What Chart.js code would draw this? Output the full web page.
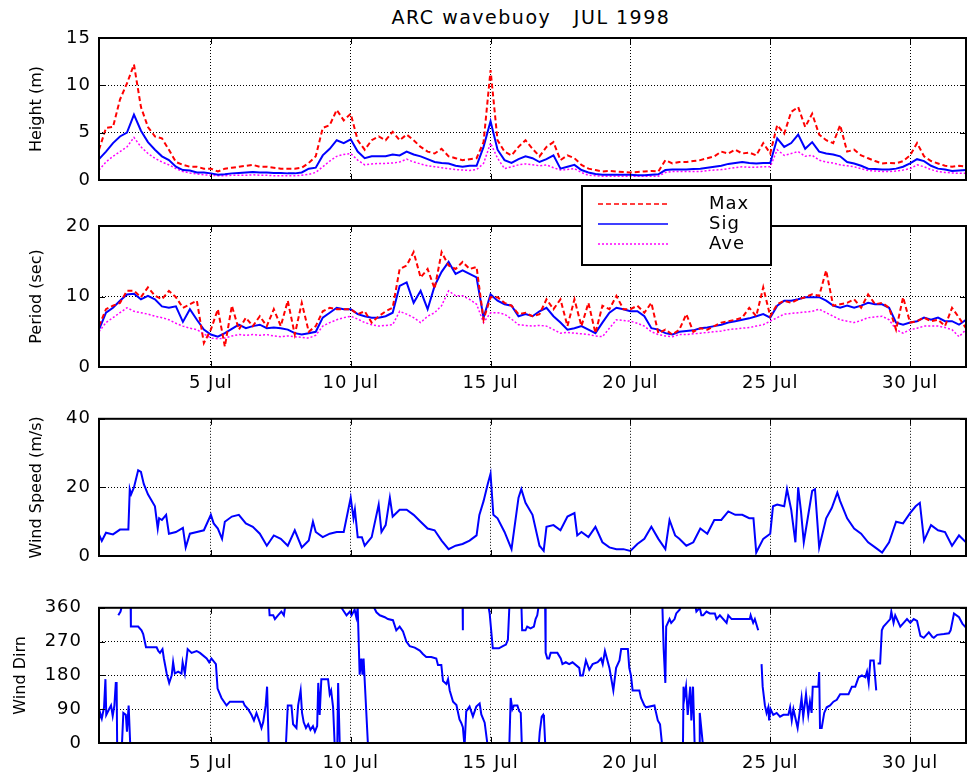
<!DOCTYPE html>
<html>
<head>
<meta charset="utf-8">
<title>ARC wavebuoy JUL 1998</title>
<script src="https://cdn.jsdelivr.net/npm/chart.js@4.4.1/dist/chart.umd.min.js"></script>
<style>
    body { margin: 0; background: #fff; }
    #page { position: relative; width: 972px; height: 772px; overflow: hidden; }
    #page canvas { position: absolute; left: 0; }
    #title {
        position: absolute; top: 6px; left: 331px; width: 400px;
        text-align: center; white-space: pre; color: #000;
        font: 19px/22px "DejaVu Sans", sans-serif; letter-spacing: 1.5px;
    }
</style>
</head>
<body>
<div id="page">
    <div id="title">ARC wavebuoy   JUL 1998</div>
    <canvas id="heightChart" width="972" height="200" style="top: 0px"></canvas>
    <canvas id="periodChart" width="972" height="218" style="top: 182px"></canvas>
    <canvas id="speedChart" width="972" height="176" style="top: 400px"></canvas>
    <canvas id="dirChart" width="972" height="192" style="top: 580px"></canvas>
</div>
<script>
// x axis is day of July (1 = 1 Jul 00:00)
const dayTicks = [5, 10, 15, 20, 25, 30]
const dayTickLabels = ["5 Jul", "10 Jul", "15 Jul", "20 Jul", "25 Jul", "30 Jul"]

// wave records, every 6 hours from 1 Jul 00:00 (one row per day)
const waveStart = 1
const waveStep = 0.25

const heightMax = [
    3.2, 5.5, 5.6, 8.5,   10.2, 12.2, 7.7, 5.6,   4.6, 4.4, 3.2, 1.9,   1.6, 1.4, 1.4, 1.2,
    1.2, 0.9, 1.2, 1.3,   1.4, 1.5, 1.6, 1.4,     1.4, 1.3, 1.2, 1.2,   1.2, 1.3, 1.8, 2.5,
    5.5, 5.8, 7.4, 6.3,   7.0, 4.2, 3.2, 4.2,     4.6, 4.2, 5.1, 4.2,   4.8, 4.2, 3.5, 3.0,
    2.8, 3.3, 2.5, 2.3,   2.1, 2.2, 2.3, 4.0,     11.6, 4.2, 3.0, 2.6,  3.5, 4.2, 3.3, 2.5,
    3.5, 4.0, 2.1, 2.6,   2.3, 1.6, 1.2, 1.05,    0.9, 0.95, 0.9, 0.85, 0.8, 0.85, 0.9, 0.95,
    0.9, 2.1, 1.75, 1.9,  1.9, 2.0, 2.1, 2.3,     2.5, 3.0, 2.8, 3.2,   2.8, 2.9, 2.6, 3.9,
    2.8, 5.8, 4.9, 7.2,   7.7, 5.6, 7.0, 4.8,     4.2, 3.9, 5.8, 3.0,   3.2, 2.6, 2.3, 2.0,
    1.75, 1.8, 1.75, 2.0, 2.6, 3.9, 2.5, 2.0,     1.75, 1.5, 1.4, 1.5,  1.4,
]
const heightSig = [
    2.2, 3.0, 3.9, 4.6,   5.0, 6.9, 5.2, 4.0,     3.2, 2.5, 2.1, 1.4,   1.05, 1.0, 0.8, 0.8,
    0.7, 0.55, 0.6, 0.7,  0.75, 0.8, 0.85, 0.8,   0.8, 0.75, 0.75, 0.7, 0.7, 0.8, 1.2, 1.3,
    2.6, 3.3, 4.2, 3.9,   4.3, 3.0, 2.3, 2.5,     2.5, 2.5, 2.7, 2.6,   3.0, 2.7, 2.5, 2.2,
    1.9, 1.8, 1.75, 1.5,  1.4, 1.5, 1.5, 3.5,     6.2, 3.2, 2.1, 1.8,   2.2, 2.5, 2.3, 1.9,
    2.2, 2.6, 1.2, 1.4,   1.6, 1.05, 0.8, 0.63,   0.55, 0.55, 0.55, 0.55, 0.55, 0.5, 0.5, 0.55,
    0.6, 1.05, 1.1, 1.1,  1.1, 1.15, 1.2, 1.3,    1.4, 1.5, 1.7, 1.8,   1.9, 1.8, 1.75, 1.8,
    1.8, 4.4, 3.5, 3.9,   4.8, 3.3, 4.0, 3.0,     2.8, 2.7, 2.5, 1.9,   1.75, 1.5, 1.2, 1.15,
    1.1, 1.1, 1.2, 1.4,   1.75, 2.2, 2.0, 1.5,    1.2, 1.1, 0.95, 1.0,  1.05,
]
const heightAve = [
    1.05, 1.9, 2.5, 3.0,  3.5, 4.5, 3.5, 2.8,     2.3, 1.9, 1.6, 1.2,   0.9, 0.75, 0.63, 0.55,
    0.5, 0.45, 0.45, 0.5, 0.5, 0.5, 0.55, 0.5,    0.5, 0.45, 0.45, 0.45, 0.45, 0.5, 0.6, 0.8,
    1.4, 2.0, 2.5, 2.7,   2.8, 2.1, 1.6, 1.7,     1.75, 1.75, 1.8, 1.9, 2.2, 1.9, 1.7, 1.5,
    1.4, 1.3, 1.2, 1.1,   1.05, 1.0, 1.1, 1.75,   3.9, 2.3, 1.2, 1.4,   1.6, 1.7, 1.6, 1.5,
    1.6, 1.3, 1.05, 1.1,  1.2, 0.8, 0.5, 0.45,    0.4, 0.4, 0.4, 0.4,   0.4, 0.4, 0.4, 0.4,
    0.4, 0.8, 0.9, 0.9,   0.9, 0.9, 0.9, 1.0,     1.05, 1.1, 1.2, 1.3,  1.4, 1.35, 1.35, 1.4,
    1.4, 3.2, 2.6, 2.8,   3.0, 2.5, 2.6, 2.1,     1.9, 1.8, 1.6, 1.5,   1.4, 1.2, 1.0, 0.95,
    0.9, 0.9, 0.95, 1.05, 1.2, 1.6, 1.4, 1.1,     0.9, 0.8, 0.75, 0.7,  0.7,
]

const periodMax = [
    5.8, 8.2, 8.7, 9.1,   10.8, 10.8, 9.9, 11.3,  10.1, 9.6, 10.8, 9.9, 8.4, 8.9, 9.4, 3.4,
    5.3, 8.2, 2.9, 8.7,   5.3, 7.0, 5.8, 7.2,     5.8, 8.2, 5.8, 9.4,   4.6, 9.1, 5.0, 5.8,
    7.9, 8.4, 8.2, 8.2,   8.2, 7.5, 7.9, 6.3,     7.2, 7.9, 8.4, 13.9,  14.4, 16.3, 12.7, 13.9,
    11.1, 16.3, 14.4, 13.9, 14.9, 13.9, 14.2, 6.7, 9.9, 9.9, 9.1, 8.7,  7.5, 7.7, 7.2, 7.5,
    9.6, 8.2, 9.6, 5.8,   9.6, 5.8, 9.1, 4.8,     8.7, 8.2, 10.1, 8.2,  8.2, 8.7, 7.7, 9.1,
    4.8, 5.3, 4.6, 5.3,   7.5, 5.0, 5.5, 5.3,     5.8, 6.3, 6.5, 6.7,   7.0, 8.4, 7.2, 11.3,
    7.2, 8.9, 9.4, 9.1,   9.6, 9.9, 10.3, 10.1,   13.7, 8.7, 8.9, 9.1,  9.6, 8.4, 10.3, 8.9,
    9.1, 8.4, 5.3, 9.9,   6.3, 6.5, 7.0, 6.5,     6.7, 5.8, 8.4, 7.0,   5.5,
]
const periodSig = [
    5.3, 7.7, 8.4, 9.4,   10.3, 10.4, 9.6, 10.1,  9.6, 8.6, 8.4, 8.6,   6.4, 8.2, 6.7, 5.3,
    4.6, 4.3, 4.8, 5.4,   6.0, 5.5, 5.8, 6.0,     5.5, 5.6, 5.5, 5.3,   4.8, 4.6, 4.8, 5.0,
    7.0, 7.7, 8.4, 8.2,   8.2, 7.5, 7.2, 7.0,     7.0, 7.2, 7.7, 11.5,  12.0, 9.1, 10.8, 8.2,
    11.5, 13.5, 14.9, 13.2, 13.7, 13.2, 12.7, 7.0, 10.3, 9.4, 8.9, 8.7, 7.2, 7.5, 7.2, 7.9,
    8.4, 7.2, 6.3, 5.3,   5.5, 5.8, 5.3, 4.8,     6.3, 7.7, 8.4, 8.2,   7.9, 7.9, 7.2, 5.5,
    5.3, 4.8, 4.6, 5.0,   5.1, 5.2, 5.5, 5.6,     5.8, 6.0, 6.3, 6.5,   6.7, 6.9, 7.2, 7.5,
    7.0, 8.7, 9.4, 9.4,   9.6, 9.9, 9.9, 9.9,     9.4, 8.7, 8.4, 8.7,   8.4, 8.7, 9.1, 8.9,
    8.9, 8.4, 6.3, 6.0,   6.3, 6.5, 7.0, 6.7,     7.0, 6.5, 6.5, 6.0,   6.7,
]
const periodAve = [
    5.0, 6.3, 7.0, 7.7,   8.4, 7.9, 7.7, 7.5,     7.2, 7.0, 6.7, 6.2,   5.8, 5.5, 5.3, 4.7,
    4.1, 4.0, 4.1, 4.4,   4.6, 4.5, 4.6, 4.5,     4.6, 4.4, 4.3, 4.4,   4.3, 4.2, 4.1, 4.5,
    5.8, 6.3, 6.7, 7.0,   7.2, 6.8, 6.3, 6.0,     5.8, 5.9, 6.0, 7.9,   7.5, 7.0, 6.3, 7.2,
    7.7, 8.7, 10.8, 10.1, 10.1, 9.6, 8.9, 6.3,    7.7, 7.7, 7.5, 6.8,   6.0, 5.9, 5.8, 5.9,
    5.8, 5.3, 4.8, 4.9,   4.8, 4.7, 4.6, 4.4,     4.3, 5.5, 6.7, 6.6,   6.5, 6.2, 5.8, 5.0,
    4.6, 4.4, 4.3, 4.6,   4.6, 4.7, 4.8, 4.9,     5.0, 5.1, 5.3, 5.4,   5.5, 5.6, 5.8, 6.0,
    6.5, 7.0, 7.5, 7.6,   7.7, 7.8, 7.9, 8.2,     7.7, 7.2, 6.7, 6.5,   6.3, 6.6, 7.0, 7.1,
    7.2, 6.7, 5.3, 4.8,   5.3, 5.5, 5.8, 5.8,     5.8, 5.6, 5.3, 4.3,   5.3,
]

// wind records as [day, value]
const windSpeed = [
    [1.00, 6.3], [1.10, 4.4], [1.25, 6.8], [1.50, 6.3], [1.75, 7.7], [2.05, 7.7], [2.10, 19.5], [2.15, 18],
    [2.25, 20], [2.40, 25], [2.50, 24.5], [2.60, 21], [2.75, 18], [3.00, 14.5], [3.10, 8], [3.15, 11],
    [3.25, 10.5], [3.40, 12], [3.50, 6.5], [3.75, 7], [4.00, 8.2], [4.10, 2.5], [4.25, 6.5], [4.50, 7],
    [4.75, 7.5], [5.00, 12], [5.10, 9.5], [5.25, 8], [5.40, 5], [5.50, 10], [5.75, 11.5], [6.00, 12],
    [6.25, 9.5], [6.50, 8.5], [6.75, 6.5], [7.00, 3], [7.25, 6], [7.50, 5], [7.75, 3], [8.00, 7.5],
    [8.25, 2.5], [8.50, 4.5], [8.65, 10], [8.75, 7], [9.00, 5.5], [9.25, 6.5], [9.50, 7], [9.75, 7],
    [10.00, 17], [10.10, 11], [10.15, 13.5], [10.25, 5.5], [10.40, 5.5], [10.50, 3], [10.75, 5.5], [11.00, 15],
    [11.10, 7], [11.25, 9], [11.40, 17], [11.50, 11.5], [11.75, 13.5], [12.00, 13.5], [12.25, 12], [12.50, 10],
    [12.75, 8], [13.00, 7.5], [13.25, 4.5], [13.50, 2], [13.75, 3], [14.00, 3.5], [14.25, 4.5], [14.50, 6],
    [14.60, 12], [14.75, 16], [14.90, 21], [15.00, 24], [15.10, 12], [15.25, 11], [15.50, 7], [15.75, 2],
    [16.00, 17], [16.10, 19.5], [16.25, 15.5], [16.50, 12], [16.75, 3], [16.90, 1.5], [17.00, 8.5], [17.25, 9],
    [17.50, 7.5], [17.75, 11.5], [18.00, 12.5], [18.10, 6], [18.25, 7], [18.50, 5.5], [18.75, 8.5], [19.00, 4],
    [19.25, 2.5], [19.50, 2], [19.75, 2], [20.00, 1.5], [20.25, 3.5], [20.50, 5], [20.75, 8.5], [21.00, 5],
    [21.25, 2], [21.40, 10.5], [21.60, 6], [21.75, 5], [22.00, 3], [22.25, 4], [22.50, 8], [22.75, 6.5],
    [23.00, 10.5], [23.25, 10.5], [23.50, 13], [23.75, 12], [24.00, 12], [24.25, 11], [24.40, 11], [24.50, 1],
    [24.75, 5], [25.00, 6.5], [25.10, 14.5], [25.25, 15], [25.50, 14.5], [25.60, 19.5], [25.75, 13.5], [25.90, 4],
    [26.00, 20], [26.10, 13], [26.20, 4], [26.40, 14], [26.50, 19], [26.60, 19.5], [26.75, 2.5], [27.00, 11],
    [27.20, 14], [27.40, 18.5], [27.50, 16], [27.75, 11], [28.00, 8], [28.25, 6.5], [28.50, 4], [28.75, 2.5],
    [29.00, 1], [29.25, 4], [29.50, 10], [29.75, 9.5], [30.00, 12.5], [30.20, 14.5], [30.35, 15.5], [30.50, 4.5],
    [30.75, 9], [31.00, 7.5], [31.25, 7], [31.50, 3], [31.75, 6], [32.00, 4],
]

// direction runs past 0/360 and is clipped by the axes; null breaks the trace
const windDir = [
    [1.00, 60], [1.04, 80], [1.10, 65], [1.18, 95], [1.23, 170], [1.26, 75], [1.36, 90], [1.43, 100],
    [1.49, 72], [1.55, 100], [1.60, 160], [1.63, 160], [1.65, -10], [1.66, null],
    [1.69, 340], [1.77, 350], [1.85, 375], [1.85, null],
    [1.82, -5], [1.87, 80], [1.96, 75], [2.00, 30], [2.06, 100], [2.12, -10], [2.12, null],
    [2.13, 375], [2.14, 310], [2.40, 310], [2.52, 300], [2.58, 290], [2.68, 255], [3.06, 255], [3.12, 245],
    [3.18, 240], [3.27, 250], [3.32, 225], [3.42, 185], [3.51, 160], [3.60, 180], [3.65, 215], [3.71, 185],
    [3.83, 190], [3.95, 185], [3.99, 215], [4.07, 185], [4.17, 250], [4.31, 240], [4.49, 245], [4.61, 240],
    [4.85, 225], [4.94, 215], [5.02, 225], [5.18, 210], [5.24, 145], [5.38, 120], [5.56, 100], [5.68, 110],
    [6.15, 110], [6.21, 100], [6.33, 90], [6.45, 75], [6.54, 60], [6.63, 80], [6.75, 55], [6.81, 40],
    [6.87, 55], [6.96, 100], [7.01, 150], [7.07, -10], [7.07, null],
    [7.07, 375], [7.10, 340], [7.23, 340], [7.29, 330], [7.40, 340], [7.52, 350], [7.61, 340], [7.68, 375], [7.68, null],
    [7.68, -10], [7.75, 100], [7.88, 100], [7.94, 50], [8.06, 40], [8.12, 100], [8.21, 140], [8.26, 80],
    [8.32, 55], [8.40, 40], [8.48, 50], [8.56, 35], [8.65, 45], [8.72, 30], [8.80, 45], [8.84, 160],
    [8.89, 75], [8.95, 170], [9.19, 170], [9.25, 130], [9.30, 140], [9.37, 95], [9.43, -10], [9.43, null],
    [9.43, 375], [9.67, 360], [9.85, 340], [9.97, 350], [10.03, 340], [10.14, 355], [10.20, 335], [10.25, 360],
    [10.32, 182], [10.38, 225], [10.42, 182], [10.46, 225], [10.62, -10], [10.62, null],
    [9.52, -10], [9.55, 160], [9.61, -10], [9.61, null],
    [10.74, 375], [10.92, 348], [11.04, 340], [11.22, 335], [11.33, 330], [11.51, 327], [11.63, 300], [11.75, 310],
    [11.87, 297], [11.99, 270], [12.11, 258], [12.29, 254], [12.47, 246], [12.58, 237], [12.70, 229], [12.88, 229],
    [13.06, 225], [13.12, 208], [13.24, 208], [13.30, 165], [13.42, 157], [13.48, 170], [13.54, 140], [13.66, 110],
    [13.78, 101], [13.89, 63], [13.95, 54], [14.01, 42], [14.07, -10], [14.07, null],
    [14.00, 380], [14.01, 300], [14.01, null],
    [14.07, -10], [14.13, 84], [14.25, 97], [14.37, 71], [14.49, 97], [14.61, 105], [14.67, 76], [14.79, 54],
    [14.90, -10], [14.90, null],
    [14.90, 375], [14.97, 344], [15.08, 252], [15.30, 252], [15.44, 258], [15.55, 262], [15.62, 275], [15.68, 375], [15.68, null],
    [15.67, -10], [15.72, 120], [15.78, 90], [15.84, 100], [15.96, 100], [16.02, 85], [16.08, 80], [16.12, -10], [16.12, null],
    [16.10, 375], [16.13, 300], [16.25, 300], [16.31, 310], [16.43, 305], [16.55, 310], [16.61, 330], [16.67, 340],
    [16.74, 375], [16.74, null],
    [16.72, -10], [16.76, 30], [16.83, 70], [16.88, 75], [16.91, 65], [16.96, -10], [16.96, null],
    [16.95, 375], [16.97, 240], [17.03, 225], [17.09, 225], [17.15, 240], [17.39, 240], [17.51, 225], [17.57, 210],
    [17.69, 215], [17.81, 210], [17.93, 215], [18.17, 200], [18.21, 180], [18.30, 180], [18.41, 220], [18.53, 195],
    [18.65, 210], [18.83, 215], [18.95, 225], [19.01, 210], [19.09, 245], [19.25, 200], [19.39, 140], [19.49, 200],
    [19.61, 220], [19.67, 250], [19.91, 250], [19.96, 200], [20.02, 180], [20.08, 140], [20.32, 140], [20.38, 120],
    [20.50, 100], [20.56, 95], [20.86, 100], [20.98, 60], [21.06, 50], [21.14, -10], [21.14, null],
    [21.14, 375], [21.19, 250], [21.25, 160], [21.28, 310], [21.34, 320], [21.40, 330], [21.46, 320], [21.58, 330],
    [21.64, 345], [21.76, 355], [21.88, 375], [21.88, null],
    [21.88, -10], [21.90, 150], [21.93, 120], [21.99, 150], [22.05, 75], [22.14, 150], [22.18, 60], [22.24, 150],
    [22.30, -10], [22.30, null],
    [22.30, 375], [22.36, 350], [22.48, 360], [22.54, 340], [22.60, 340], [22.72, 350], [22.84, 345], [23.02, 345],
    [23.08, 330], [23.20, 340], [23.44, 320], [23.50, 340], [23.62, 330], [24.27, 330], [24.30, 340], [24.39, 320],
    [24.45, 330], [24.57, 300], [24.60, null],
    [22.46, -10], [22.48, 80], [22.60, -10], [22.60, null],
    [24.69, 210], [24.73, 150], [24.81, 100], [24.87, 80], [24.93, 95], [24.96, 60], [25.01, 90], [25.11, 75],
    [25.23, 80], [25.35, 70], [25.47, 75], [25.65, 75], [25.71, 95], [25.77, 60], [25.83, 90], [25.98, 40],
    [26.12, 120], [26.18, 70], [26.28, 130], [26.36, 75], [26.42, 110], [26.48, 80], [26.52, 150], [26.72, 150],
    [26.75, 189], [26.78, 40], [26.84, 40], [26.93, 80], [27.02, 95], [27.14, 100], [27.26, 110], [27.38, 115],
    [27.50, 130], [27.62, 130], [27.80, 130], [27.92, 150], [28.04, 150], [28.16, 175], [28.28, 180], [28.40, 175],
    [28.46, 190], [28.52, 160], [28.58, 220], [28.70, 220], [28.79, 140], [28.81, null],
    [28.84, 212], [28.93, 212], [28.99, 300], [29.05, 310], [29.17, 320], [29.29, 330], [29.33, 350], [29.41, 320],
    [29.47, 340], [29.59, 320], [29.65, 310], [29.77, 320], [29.89, 330], [30.01, 320], [30.13, 330], [30.25, 325],
    [30.37, 285], [30.49, 280], [30.67, 295], [30.79, 283], [30.85, 280], [30.97, 288], [31.21, 290], [31.39, 292],
    [31.45, 300], [31.57, 345], [31.75, 335], [31.87, 318], [31.99, 308],
]

const FONT = "'DejaVu Sans', sans-serif"
Chart.defaults.font.family = FONT
Chart.defaults.color = "#000"

const onWaveClock = (values) => values.map((y, i) => ({ x: waveStart + i * waveStep, y }))
const fromPairs = (pairs) => pairs.map(([x, y]) => ({ x, y }))

const waveLines = (max, sig, ave) => [
    { label: "Max", data: onWaveClock(max), borderColor: "#ff0000", borderWidth: 2, borderDash: [5, 3] },
    { label: "Sig", data: onWaveClock(sig), borderColor: "#0000ff", borderWidth: 2 },
    { label: "Ave", data: onWaveClock(ave), borderColor: "#ff00ff", borderWidth: 1.5, borderDash: [2, 2] },
]

// tick labels sit on a layer after the datasets, so only they (and the legend) get the wider spacing
const wideLabels = {
    id: "wideLabels",
    beforeDraw(chart) {
        chart.ctx.letterSpacing = "0px"
    },
    afterDatasetsDraw(chart) {
        chart.ctx.letterSpacing = "1px"
    },
}

// box round the plot plus short inward ticks, matlab style
const framePlugin = {
    id: "frame",
    afterDraw(chart) {
        const { ctx, chartArea: a, scales } = chart
        ctx.save()
        ctx.strokeStyle = "#000"
        ctx.lineWidth = 1
        ctx.beginPath()
        scales.y.ticks.forEach((t) => {
            const py = Math.round(scales.y.getPixelForValue(t.value)) + 0.5
            ctx.moveTo(a.left, py)
            ctx.lineTo(a.left + 6, py)
            ctx.moveTo(a.right - 6, py)
            ctx.lineTo(a.right, py)
        })
        scales.x.ticks.forEach((t) => {
            const px = Math.round(scales.x.getPixelForValue(t.value)) + 0.5
            ctx.moveTo(px, a.bottom)
            ctx.lineTo(px, a.bottom - 6)
            ctx.moveTo(px, a.top)
            ctx.lineTo(px, a.top + 6)
        })
        ctx.stroke()
        ctx.lineWidth = 2
        ctx.strokeRect(a.left, a.top, a.right - a.left, a.bottom - a.top)
        ctx.restore()
    },
}

// legend box that hangs over the top of the period panel
const waveLegend = {
    id: "waveLegend",
    afterDraw(chart) {
        const { ctx } = chart
        ctx.save()
        ctx.fillStyle = "#fff"
        ctx.fillRect(582, 4, 189, 79)
        ctx.lineWidth = 2
        ctx.strokeStyle = "#000"
        ctx.strokeRect(582, 4, 189, 79)
        ctx.font = `18px ${FONT}`
        ctx.textBaseline = "middle"
        chart.data.datasets.forEach((ds, i) => {
            const y = 22 + i * 20
            ctx.beginPath()
            ctx.setLineDash(ds.borderDash || [])
            ctx.strokeStyle = ds.borderColor
            ctx.lineWidth = 1.5
            ctx.moveTo(598, y)
            ctx.lineTo(668, y)
            ctx.stroke()
            ctx.setLineDash([])
            ctx.fillStyle = "#000"
            ctx.fillText(ds.label, 709, y)
        })
        ctx.restore()
    },
}

const dottedGrid = { color: "#000", lineWidth: 1, drawTicks: false }
const dottedBorder = { display: false, dash: [1, 2] }

function makePanel(canvasId, opts) {
    return new Chart(document.getElementById(canvasId), {
        type: "line",
        data: { datasets: opts.datasets },
        plugins: [wideLabels, framePlugin].concat(opts.plugins || []),
        options: {
            responsive: false,
            animation: false,
            events: [],
            layout: { padding: { top: opts.padTop, right: 6, bottom: 0, left: 0 } },
            elements: { point: { radius: 0 }, line: { tension: 0 } },
            plugins: { legend: { display: false }, tooltip: { enabled: false } },
            scales: {
                x: {
                    type: "linear",
                    min: 1,
                    max: 32,
                    afterBuildTicks: (scale) => {
                        scale.ticks = dayTicks.map((value) => ({ value }))
                    },
                    afterFit: (scale) => {
                        scale.height = opts.xAxisHeight
                    },
                    ticks: {
                        display: opts.showDays,
                        padding: opts.dayGap || 0,
                        maxRotation: 0,
                        autoSkip: false,
                        z: 1,
                        font: { size: 18 },
                        callback: (value) => dayTickLabels[dayTicks.indexOf(value)],
                    },
                    grid: dottedGrid,
                    border: dottedBorder,
                },
                y: {
                    min: opts.yMin,
                    max: opts.yMax,
                    afterFit: (scale) => {
                        scale.width = 99
                    },
                    ticks: { stepSize: opts.yStep, padding: opts.tickGap, z: 1, font: { size: 18 } },
                    grid: dottedGrid,
                    border: dottedBorder,
                    title: {
                        display: true,
                        text: opts.yTitle,
                        font: { size: 16 },
                        padding: { top: opts.titleGap, bottom: 0 },
                    },
                },
            },
        },
    })
}

makePanel("heightChart", {
    datasets: waveLines(heightMax, heightSig, heightAve),
    yMin: 0, yMax: 15, yStep: 5, yTitle: "Height (m)",
    padTop: 38, xAxisHeight: 20, showDays: false, tickGap: 8, titleGap: 27,
})

makePanel("periodChart", {
    datasets: waveLines(periodMax, periodSig, periodAve),
    yMin: 0, yMax: 20, yStep: 10, yTitle: "Period (sec)",
    padTop: 44, xAxisHeight: 33, showDays: true, dayGap: 6, tickGap: 8, titleGap: 27,
    plugins: [waveLegend],
})

makePanel("speedChart", {
    datasets: [{ label: "Wind Speed", data: fromPairs(windSpeed), borderColor: "#0000ff", borderWidth: 2 }],
    yMin: 0, yMax: 40, yStep: 20, yTitle: "Wind Speed (m/s)",
    padTop: 14, xAxisHeight: 20, showDays: false, tickGap: 8, titleGap: 27,
})

makePanel("dirChart", {
    datasets: [{ label: "Wind Dirn", data: fromPairs(windDir), borderColor: "#0000ff", borderWidth: 2 }],
    yMin: 0, yMax: 360, yStep: 90, yTitle: "Wind Dirn",
    padTop: 22, xAxisHeight: 29, showDays: true, dayGap: 10, tickGap: 17, titleGap: 11,
})
</script>
</body>
</html>
